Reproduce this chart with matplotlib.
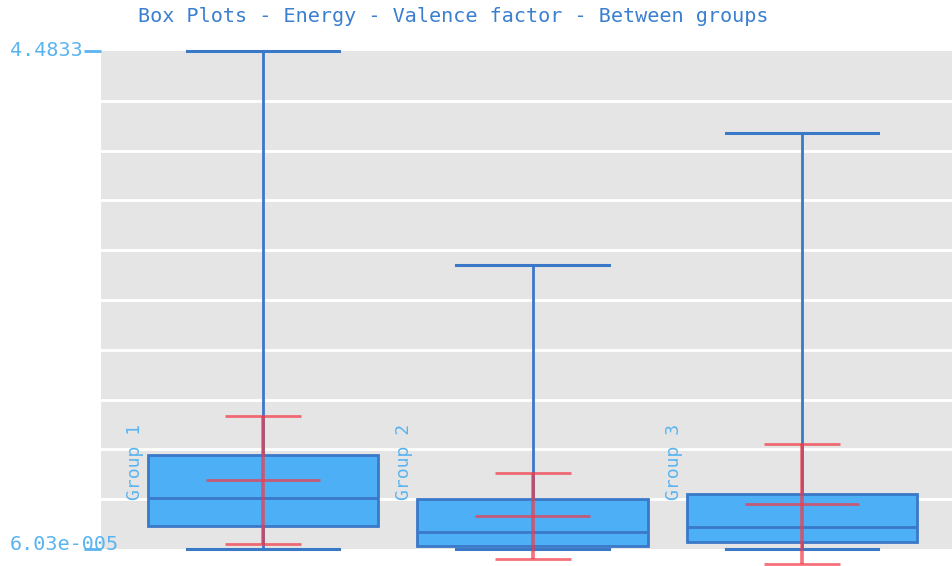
import numpy as np
import matplotlib
matplotlib.use("Agg")
import matplotlib.pyplot as plt

# Summary statistics per group
groups = ["Group 1", "Group 2", "Group 3"]
whisker_low = [0.0000603, 0.0000603, 0.0000603]
q1 = [0.207, 0.027, 0.063]
median = [0.459, 0.153, 0.198]
q3 = [0.846, 0.450, 0.495]
whisker_high = [4.4833, 2.557, 3.745]
means = [0.621, 0.297, 0.405]
sds = [0.576, 0.387, 0.540]

y_min_label = "6.03e-005"
y_max_label = "4.4833"
y_min, y_max = 0.0000603, 4.4833

title = "Box Plots - Energy - Valence factor - Between groups"

box_face = "#4daff5"
box_edge = "#3a78c8"
red = "#f23a48"
label_blue = "#5ab4f0"
title_blue = "#3a7fd0"
font = "DejaVu Sans Mono"

W, H = 953, 566
fig = plt.figure(figsize=(W / 100, H / 100), dpi=100)
ax = fig.add_axes([101 / W, 17 / H, 852 / W, 498 / H])
ax.set_facecolor("#e5e5e5")

positions = np.arange(1, len(groups) + 1)
stats = []
for i, g in enumerate(groups):
    stats.append(dict(label=g, whislo=whisker_low[i], q1=q1[i], med=median[i],
                      q3=q3[i], whishi=whisker_high[i], fliers=[]))

art = ax.bxp(stats, positions=positions, widths=0.855, capwidths=0.565,
             patch_artist=True, showfliers=False,
             boxprops=dict(facecolor=box_face, edgecolor=box_edge, linewidth=2),
             medianprops=dict(color=box_edge, linewidth=2),
             whiskerprops=dict(color=box_edge, linewidth=2),
             capprops=dict(color=box_edge, linewidth=2.2))
for key in ("whiskers", "caps", "boxes", "medians"):
    for a in art[key]:
        a.set_clip_on(False)

# Mean +/- standard deviation overlay
kw = dict(color=red, alpha=0.72, clip_on=False, zorder=5, solid_capstyle="butt")
for p, m, s in zip(positions, means, sds):
    ax.plot([p, p], [m - s, m + s], lw=2.6, **kw)
    ax.plot([p - 0.141, p + 0.141], [m + s, m + s], lw=2, **kw)
    ax.plot([p - 0.141, p + 0.141], [m - s, m - s], lw=2, **kw)
    ax.plot([p - 0.213, p + 0.213], [m, m], lw=2, **kw)

# Group names, rotated beside each box
for p, g in zip(positions, groups):
    ax.text(p - 0.475, 0.44, g, rotation=90, ha="center", va="bottom",
            color=label_blue, family=font, fontsize=13, zorder=6)

ax.set_xlim(0.399, 3.56)
ax.set_ylim(y_min, y_max)

ax.set_yticks([y_min, y_max])
ax.set_yticklabels([])
ax.set_yticks(np.linspace(y_min, y_max, 11), minor=True)
ax.tick_params(axis="y", which="major", length=12, width=2, color=label_blue)
ax.tick_params(axis="y", which="minor", length=0)
ax.set_xticks([])
ax.grid(True, which="minor", axis="y", color="white", linewidth=2)
ax.set_axisbelow(True)
for sp in ax.spines.values():
    sp.set_visible(False)

# Axis range labels
fig.text(10 / W, 1 - 51 / H, y_max_label, ha="left", va="center",
         color=label_blue, family=font, fontsize=14.5)
fig.text(10 / W, 1 - 544 / H, y_min_label, ha="left", va="center",
         color=label_blue, family=font, fontsize=14.5, zorder=10)

fig.text(453 / W, 1 - 17 / H, title, ha="center", va="center",
         color=title_blue, family=font, fontsize=14.5)

fig.savefig("out.png", dpi=100)
